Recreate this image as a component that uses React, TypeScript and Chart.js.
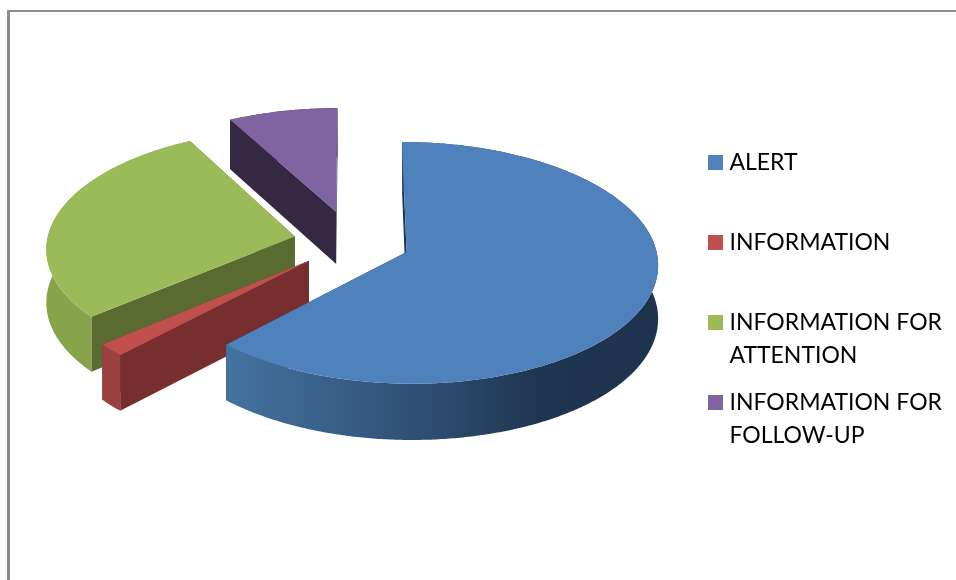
import React, { useEffect, useRef } from "react";
import { Chart, registerables } from "chart.js";

Chart.register(...registerables);

const categories = ["ALERT", "INFORMATION", "INFORMATION FOR ATTENTION", "INFORMATION FOR FOLLOW-UP"];
const legendLines = [["ALERT", ""], ["INFORMATION", ""], ["INFORMATION FOR", "ATTENTION"], ["INFORMATION FOR", "FOLLOW-UP"]];
const shares = [62.1, 1.7, 28.3, 7.9];
const explode = [46, 46, 46, 52];
const topColors = ["#4f81bd", "#c0504d", "#9bbb59", "#8064a2"];
const cutColors = ["#1f3650", "#762f2e", "#5a6b32", "#352842"];
const wallStops: [number, string][][] = [
  [[0, "#44739f"], [0.45, "#2f4f75"], [0.72, "#1f3650"], [1, "#1e334d"]],
  [[0, "#9a423f"], [1, "#9a423f"]],
  [[0, "#87a44b"], [1, "#87a44b"]],
  [[0, "#352842"], [1, "#352842"]],
];

const view = { cx: 352, cy: 241.5, rx: 248, ry: 118, tilt: 0.09, depth: 53, depthTilt: 3 };

function project(x: number, z: number, down: boolean) {
  const w = 1 - view.tilt * z;
  return {
    x: view.cx + (view.rx * x) / w,
    y: view.cy + (view.ry * z) / w + (down ? view.depth + view.depthTilt * z : 0),
  };
}

function fillPoly(ctx: CanvasRenderingContext2D, pts: { x: number; y: number }[], fill: string | CanvasGradient) {
  ctx.beginPath();
  pts.forEach((p, i) => (i ? ctx.lineTo(p.x, p.y) : ctx.moveTo(p.x, p.y)));
  ctx.closePath();
  ctx.fillStyle = fill;
  ctx.fill();
}

const pie3d = {
  id: "pie3d",
  beforeDatasetDraw(chart: any) {
    const ctx: CanvasRenderingContext2D = chart.ctx;
    const arcs = chart.getDatasetMeta(0).data;
    for (let i = arcs.length - 1; i >= 0; i--) {
      const arc = arcs[i];
      const { startAngle, endAngle, outerRadius } = arc;
      const mid = (startAngle + endAngle) / 2;
      const off = arc.options.offset / outerRadius;
      const ox = Math.cos(mid) * off;
      const oz = Math.sin(mid) * off;
      const steps = Math.max(4, Math.ceil((endAngle - startAngle) / 0.01));
      const rim = (down: boolean) => {
        const out = [];
        for (let s = 0; s <= steps; s++) {
          const a = startAngle + ((endAngle - startAngle) * s) / steps;
          out.push(project(ox + Math.cos(a), oz + Math.sin(a), down));
        }
        return out;
      };
      const top = rim(false);
      const low = rim(true);
      const apex = project(ox, oz, false);
      const apexLow = project(ox, oz, true);

      fillPoly(ctx, [apex, top[0], low[0], apexLow], cutColors[i]);
      fillPoly(ctx, [apex, top[steps], low[steps], apexLow], cutColors[i]);

      const xs = top.map((p) => p.x);
      const grad = ctx.createLinearGradient(Math.min(...xs), 0, Math.max(...xs), 0);
      wallStops[i].forEach(([stop, colour]) => grad.addColorStop(stop, colour));
      fillPoly(ctx, [...top, ...low.slice().reverse()], grad);

      fillPoly(ctx, [apex, ...top], topColors[i]);
    }
    return false;
  },
};

function legendSwatch(colour: string) {
  const c = document.createElement("canvas");
  c.width = 15;
  c.height = 15;
  const g = c.getContext("2d")!;
  g.fillStyle = colour;
  g.fillRect(0, 0, 15, 15);
  return c;
}

export default function App() {
  const ref = useRef<HTMLCanvasElement>(null);
  useEffect(() => {
    const chart = new Chart(ref.current!, {
      type: "pie",
      data: {
        labels: categories,
        datasets: [{ data: shares, backgroundColor: topColors, borderWidth: 0, offset: explode }],
      },
      options: {
        animation: false,
        responsive: false,
        layout: { padding: { top: 137, right: 4 } },
        plugins: {
          tooltip: { enabled: false },
          legend: {
            position: "right",
            align: "start",
            labels: {
              font: { family: "Lato", size: 23, lineHeight: "33px" },
              color: "#000000",
              padding: 14,
              usePointStyle: true,
              pointStyleWidth: 4,
              generateLabels: () =>
                legendLines.map((text, i) => ({
                  text,
                  fillStyle: topColors[i],
                  strokeStyle: topColors[i],
                  lineWidth: 0,
                  pointStyle: legendSwatch(topColors[i]),
                  hidden: false,
                  index: i,
                })),
            },
          },
        },
      } as any,
      plugins: [pie3d],
    });
    return () => chart.destroy();
  }, []);
  return (
    <div style={{ position: "absolute", left: 0, top: 0, width: 956, height: 580, overflow: "hidden", background: "#fff" }}>
      <canvas ref={ref} width={956} height={580} style={{ display: "block" }} />
      <div
        style={{
          position: "absolute",
          left: 7,
          top: 10,
          right: 0,
          bottom: 0,
          borderLeft: "3px solid #8c8c8c",
          borderTop: "2px solid #8c8c8c",
        }}
      />
    </div>
  );
}
